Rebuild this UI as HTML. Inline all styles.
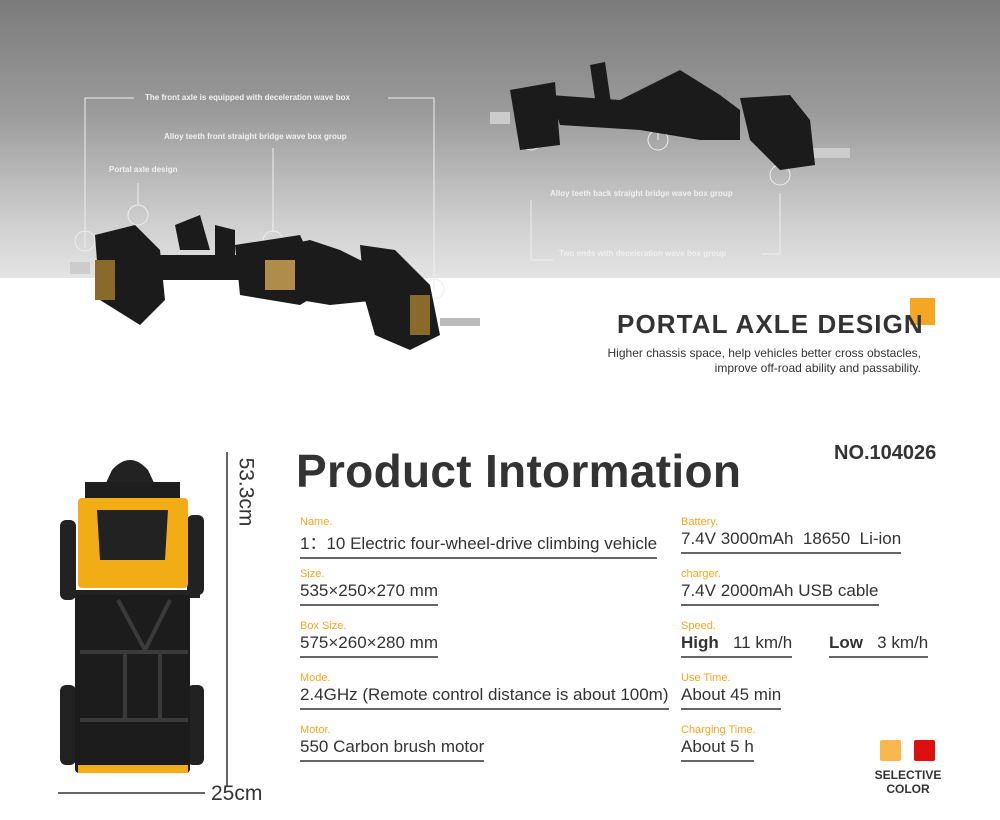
<!DOCTYPE html>
<html><head><meta charset="utf-8"><style>
*{margin:0;padding:0;box-sizing:border-box}
body{width:1000px;height:820px;overflow:hidden;background:#fff;font-family:"Liberation Sans",sans-serif;position:relative}
.top{position:absolute;left:0;top:0;width:1000px;height:278px;background:linear-gradient(#7b7b7b 0%,#9a9a9a 40%,#cfcfcf 80%,#e4e4e4 100%)}
.a{position:absolute;white-space:nowrap}
.lbl{color:#f0f0f0;font-size:8px;font-weight:bold}
.k{color:#f5a623;font-size:11px}
.v{color:#333;font-size:17px;border-bottom:2px solid #666;padding-bottom:3px}
</style></head><body>
<div class="top"></div>
<svg class="a" style="left:0;top:0" width="1000" height="820">
<g fill="none" stroke="#eee" stroke-width="1">
<path d="M134 98H85V248"/><path d="M388 98H434V290"/>
<path d="M273 148V232"/><path d="M138 183V205"/>
<path d="M531 200V260H553"/><path d="M762 254H780V193"/>
<path d="M658 118V140"/><path d="M531 118V130"/>
<circle cx="85" cy="241" r="10"/><circle cx="138" cy="215" r="10"/><circle cx="273" cy="241" r="10"/><circle cx="434" cy="289" r="10"/>
<circle cx="531" cy="140" r="10"/><circle cx="658" cy="140" r="10"/><circle cx="780" cy="175" r="10"/>
</g>
<g fill="#1b1b1b">
<rect x="70" y="262" width="20" height="12" fill="#ccc"/>
<rect x="440" y="318" width="40" height="8" fill="#bbb"/>
<path d="M95 235 L135 225 L160 250 L165 300 L140 325 L100 300Z"/>
<path d="M150 255 L240 255 L310 240 L340 250 L380 270 L380 300 L330 305 L300 300 L250 280 L160 280Z"/>
<path d="M235 245 L300 235 L325 290 L300 305 L240 295Z"/>
<path d="M360 245 L395 250 L430 285 L440 335 L410 350 L375 335 L365 300Z"/>
<path d="M175 225 L200 215 L210 250 L180 250Z"/><path d="M215 225 L235 230 L235 255 L215 255Z"/>
<rect x="95" y="260" width="20" height="40" fill="#8a6a2a"/><rect x="410" y="295" width="20" height="40" fill="#8a6a2a"/>
<rect x="265" y="260" width="30" height="30" fill="#b08c4a"/>
</g>
<g fill="#1b1b1b">
<rect x="490" y="112" width="20" height="12" fill="#ccc"/>
<rect x="810" y="148" width="40" height="10" fill="#ccc"/>
<path d="M510 90 L555 82 L560 145 L520 150Z"/>
<path d="M550 95 L620 100 L680 70 L720 95 L740 110 L740 140 L700 140 L640 130 L560 125Z"/>
<path d="M590 65 L605 62 L612 110 L597 112Z"/>
<path d="M740 98 L790 95 L810 120 L815 165 L780 170 L750 140Z"/>
</g>
<g>
<rect x="60" y="520" width="16" height="80" rx="6" fill="#222"/><rect x="187" y="515" width="17" height="80" rx="6" fill="#222"/>
<rect x="60" y="685" width="16" height="80" rx="6" fill="#222"/><rect x="187" y="685" width="17" height="80" rx="6" fill="#222"/>
<path d="M112 470 Q130 450 148 470 L155 485 L105 485Z" fill="#222"/>
<rect x="85" y="482" width="95" height="20" fill="#1e1e1e"/>
<rect x="78" y="498" width="110" height="90" rx="4" fill="#f2ad16"/>
<path d="M97 510 L168 510 L165 560 L100 560Z" fill="#222"/>
<rect x="65" y="590" width="135" height="8" fill="#222"/>
<rect x="75" y="595" width="115" height="178" rx="4" fill="#1c1c1c"/>
<rect x="78" y="765" width="110" height="8" fill="#f2ad16"/>
<g stroke="#3a3a3a" stroke-width="4" fill="none"><path d="M80 652H188M118 600L145 650L170 600M125 652V720M160 652V720M80 720H188"/></g>
</g>
<path d="M227 452V787M58 793H205" stroke="#333" stroke-width="1.5"/>
<rect x="910" y="298" width="25" height="27" fill="#f5a623"/>
<rect x="880" y="740" width="21" height="21" rx="2" fill="#f7b94e"/>
<rect x="914" y="740" width="21" height="21" rx="2" fill="#dd1010"/>
</svg>
<div class="a lbl" style="left:145px;top:93px">The front axle is equipped with deceleration wave box</div>
<div class="a lbl" style="left:164px;top:132px">Alloy teeth front straight bridge wave box group</div>
<div class="a lbl" style="left:109px;top:165px">Portal axle design</div>
<div class="a lbl" style="left:550px;top:189px">Alloy teeth back straight bridge wave box group</div>
<div class="a lbl" style="left:559px;top:249px">Two ends with deceleration wave box group</div>
<div class="a" style="left:617px;top:309px;font-size:26px;font-weight:bold;color:#333;letter-spacing:1.1px">PORTAL AXLE DESIGN</div>
<div class="a" style="right:79px;top:346px;font-size:12px;color:#333;text-align:right;line-height:15px">Higher chassis space, help vehicles better cross obstacles,<br>improve off-road ability and passability.</div>
<div class="a" style="left:296px;top:444px;font-size:46px;font-weight:bold;color:#333;letter-spacing:0.3px">Product Intormation</div>
<div class="a" style="left:834px;top:442px;font-size:20px;font-weight:bold;color:#333">NO.104026</div>
<div class="a" style="left:211px;top:480px;font-size:21px;color:#333;transform:rotate(90deg);transform-origin:center">53.3cm</div>
<div class="a" style="left:211px;top:782px;font-size:21px;color:#333">25cm</div>

<div class="a k" style="left:300px;top:516px">Name.</div><div class="a v" style="left:300px;top:529px">1：10 Electric four-wheel-drive climbing vehicle</div>
<div class="a k" style="left:300px;top:568px">Size.</div><div class="a v" style="left:300px;top:581px">535×250×270 mm</div>
<div class="a k" style="left:300px;top:620px">Box Size.</div><div class="a v" style="left:300px;top:633px">575×260×280 mm</div>
<div class="a k" style="left:300px;top:672px">Mode.</div><div class="a v" style="left:300px;top:685px">2.4GHz (Remote control distance is about 100m)</div>
<div class="a k" style="left:300px;top:724px">Motor.</div><div class="a v" style="left:300px;top:737px">550 Carbon brush motor</div>
<div class="a k" style="left:681px;top:516px">Battery.</div><div class="a v" style="left:681px;top:529px">7.4V 3000mAh&nbsp; 18650&nbsp; Li-ion</div>
<div class="a k" style="left:681px;top:568px">charger.</div><div class="a v" style="left:681px;top:581px">7.4V 2000mAh USB cable</div>
<div class="a k" style="left:681px;top:620px">Speed.</div><div class="a v" style="left:681px;top:633px"><b>High</b>&nbsp;&nbsp; 11 km/h</div><div class="a v" style="left:829px;top:633px"><b>Low</b>&nbsp;&nbsp; 3 km/h</div>
<div class="a k" style="left:681px;top:672px">Use Time.</div><div class="a v" style="left:681px;top:685px">About 45 min</div>
<div class="a k" style="left:681px;top:724px">Charging Time.</div><div class="a v" style="left:681px;top:737px">About 5 h</div>
<div class="a" style="left:868px;top:768px;font-size:12px;font-weight:bold;color:#333;text-align:center;line-height:14px;width:80px">SELECTIVE<br>COLOR</div>
</body></html>
